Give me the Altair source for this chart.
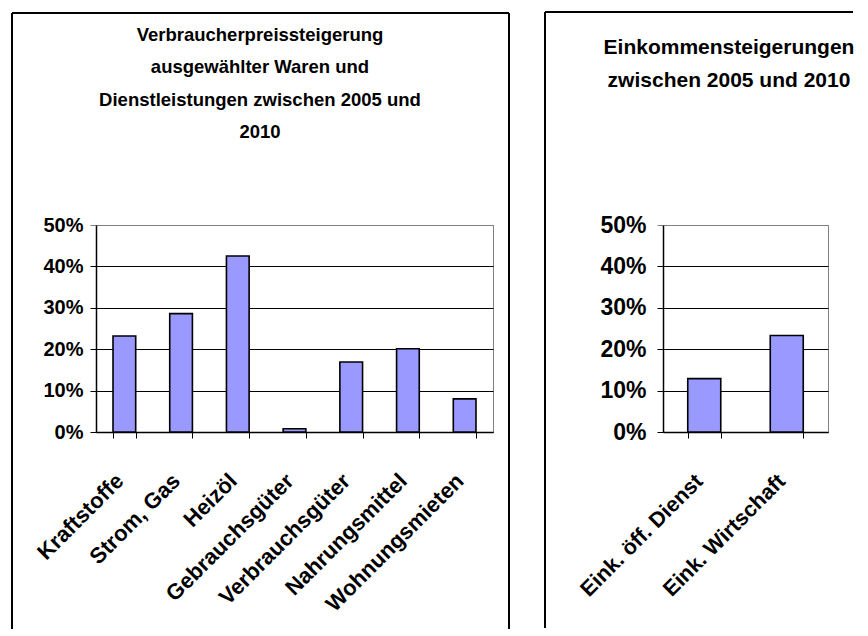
import altair as alt
import pandas as pd

# ---- data ----
left_cats = ["Kraftstoffe", "Strom, Gas", "Heizöl", "Gebrauchsgüter",
             "Verbrauchsgüter", "Nahrungsmittel", "Wohnungsmieten"]
left_vals = [0.232, 0.286, 0.425, 0.008, 0.169, 0.201, 0.080]

right_cats = ["Eink. öff. Dienst", "Eink. Wirtschaft"]
right_vals = [0.129, 0.233]

y_ticks = [0.0, 0.1, 0.2, 0.3, 0.4, 0.5]

left_title = ["Verbraucherpreissteigerung", "ausgewählter Waren und",
              "Dienstleistungen zwischen 2005 und", "2010"]
right_title = ["Einkommensteigerungen", "zwischen 2005 und 2010"]

FONT = "Liberation Sans"
one = pd.DataFrame({"k": [0]})


def panel(cats, vals, W, H, ylab_size, ylab_pad, xlab_size, title_lines, title_size,
          title_x, title_y, title_lh, frame, right_edge, label_pad, label_off):
    df = pd.DataFrame({"cat": cats, "val": vals})
    grid_col = alt.condition("datum.value > 0.45", alt.value("#808080"), alt.value("black"))
    bars = alt.Chart(df).mark_bar(fill="#9999FF", stroke="black", strokeWidth=1.6).encode(
        x=alt.X("cat:N", sort=cats,
                scale=alt.Scale(paddingInner=0.6, paddingOuter=0.3),
                axis=alt.Axis(title=None, labelAngle=-45, labelAlign="right",
                              labelBaseline="middle", tickBand="extent",
                              tickSize=6, tickColor="black", tickWidth=1,
                              domainColor="black", domainWidth=1.5,
                              labelPadding=label_pad, labelOffset=label_off,
                              labelFont=FONT,
                              labelFontSize=xlab_size, labelFontWeight="bold",
                              labelColor="black", labelLimit=400)),
        y=alt.Y("val:Q", scale=alt.Scale(domain=[0, 0.5]),
                axis=alt.Axis(title=None, values=y_ticks, format=".0%",
                              grid=True, gridColor=grid_col, gridWidth=1,
                              tickColor=grid_col, tickSize=6, tickWidth=1,
                              domainColor="black", domainWidth=1.5,
                              labelPadding=ylab_pad, labelFont=FONT,
                              labelFontSize=ylab_size, labelFontWeight="bold",
                              labelColor="black")),
    )
    fl, fr, ft, fb = frame
    layers = [bars]
    # panel frame (chart-area border), cut off by the image edge at bottom/right
    layers.append(alt.Chart(one).mark_rule(color="black", strokeWidth=2).encode(
        x=alt.value(fl), y=alt.value(ft), y2=alt.value(fb)))
    layers.append(alt.Chart(one).mark_rule(color="black", strokeWidth=2).encode(
        x=alt.value(fl), x2=alt.value(fr), y=alt.value(ft)))
    if right_edge:
        layers.append(alt.Chart(one).mark_rule(color="black", strokeWidth=2).encode(
            x=alt.value(fr), y=alt.value(ft), y2=alt.value(fb)))
    layers.append(alt.Chart(one).mark_text(
        align="center", baseline="alphabetic", font=FONT, fontSize=title_size,
        fontWeight="bold", lineHeight=title_lh, color="black").encode(
        x=alt.value(title_x), y=alt.value(title_y), text=alt.value(title_lines)))
    return alt.layer(*layers).properties(width=W, height=H)


left = panel(left_cats, left_vals, 397, 207, 20, 7, 22, left_title, 18.5,
             164, -184, 32.3, (-84, 413, -212, 404), True, 39, -5)
right = panel(right_cats, right_vals, 165, 207, 23, 11, 21.5, right_title, 21,
              66, -171, 33, (-118, 190, -213, 403), False, 40, -5)

chart = alt.hconcat(left, right, spacing=32).properties(
    padding={"left": 2, "top": 2, "right": 0, "bottom": 0},
    background="white",
).configure_view(stroke="#808080", strokeWidth=1)

chart.save("out.html", embed_options={"renderer": "svg", "actions": False})
